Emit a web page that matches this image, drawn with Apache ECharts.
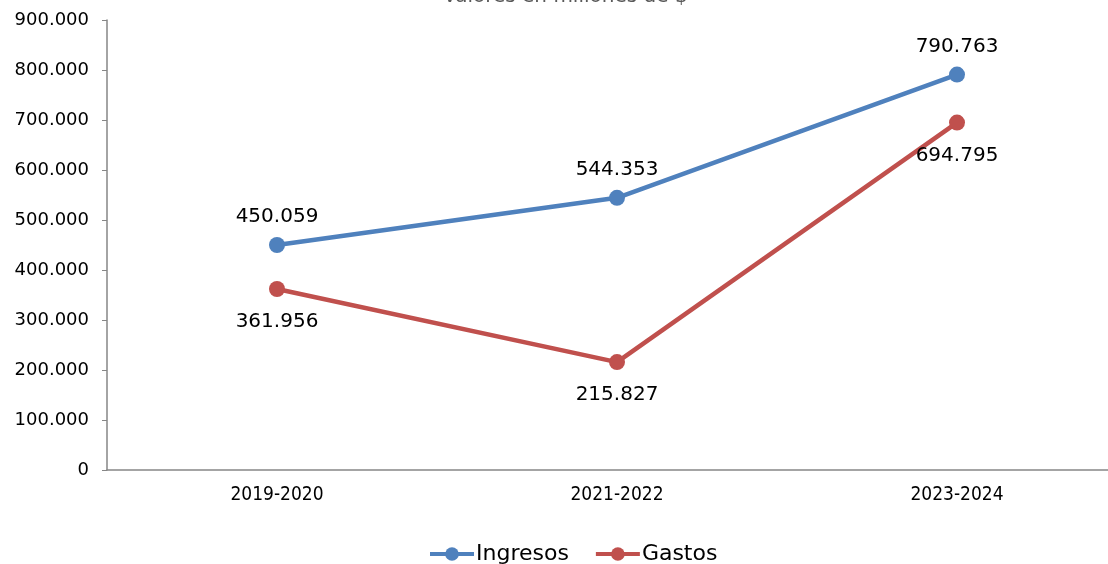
<!DOCTYPE html>
<html>
<head>
<meta charset="utf-8">
<script src="https://cdn.jsdelivr.net/npm/echarts@6/dist/echarts.min.js"></script>
<style>html,body{margin:0;padding:0;background:#fff;overflow:hidden;width:1108px;height:564px}#c{width:1127px;height:564px}</style>
</head>
<body>
<div id="c"></div>
<script>
var titleText = 'Valores en millones de $';
var categories = ['2019-2020', '2021-2022', '2023-2024'];
var ingresos = [450.059, 544.353, 790.763];
var gastos = [361.956, 215.827, 694.795];
var yMin = 0, yMax = 900, yStep = 100;

function fmt(v) { return v === 0 ? '0' : v.toFixed(3); }

var chart = echarts.init(document.getElementById('c'));
chart.setOption({
  animation: false,
  backgroundColor: '#fff',
  title: {
    text: titleText,
    left: 443,
    top: -13,
    padding: 0,
    textStyle: { fontFamily: 'DejaVu Sans', fontSize: 20, fontWeight: 'normal', color: '#595959' }
  },
  legend: {
    data: ['Ingresos', 'Gastos'],
    top: 543,
    left: 428,
    padding: 0,
    itemWidth: 44,
    itemHeight: 17,
    itemGap: 25,
    lineStyle: { width: 4 },
    textStyle: { fontFamily: 'DejaVu Sans', fontSize: 22, color: '#000', padding: [0, 0, 0, -3] }
  },
  grid: { left: 107, right: 0, top: 20, bottom: 94, containLabel: false },
  xAxis: {
    type: 'category',
    data: categories,
    boundaryGap: true,
    axisLine: { lineStyle: { color: '#868686', width: 1.5 } },
    axisTick: { show: false },
    axisLabel: { margin: 16, fontFamily: 'DejaVu Sans Condensed', fontSize: 19, color: '#000' }
  },
  yAxis: {
    type: 'value',
    min: yMin, max: yMax, interval: yStep,
    axisLine: { show: true, lineStyle: { color: '#868686', width: 1.5 } },
    axisTick: { show: true, length: 5, lineStyle: { color: '#868686' } },
    splitLine: { show: false },
    axisLabel: { margin: 18, fontFamily: 'DejaVu Sans', fontSize: 18, color: '#000', formatter: fmt }
  },
  series: [
    {
      name: 'Ingresos', type: 'line', data: ingresos,
      symbol: 'circle', symbolSize: 16,
      lineStyle: { color: '#4f81bd', width: 4.5 },
      itemStyle: { color: '#4f81bd' },
      label: { show: true, position: 'top', distance: 10, fontFamily: 'DejaVu Sans', fontSize: 20, color: '#000', formatter: function (p) { return fmt(p.value); } }
    },
    {
      name: 'Gastos', type: 'line', data: gastos,
      symbol: 'circle', symbolSize: 16,
      lineStyle: { color: '#c0504d', width: 4.5 },
      itemStyle: { color: '#c0504d' },
      label: { show: true, position: 'bottom', distance: 15, fontFamily: 'DejaVu Sans', fontSize: 20, color: '#000', formatter: function (p) { return fmt(p.value); } }
    }
  ]
});
</script>
</body>
</html>
